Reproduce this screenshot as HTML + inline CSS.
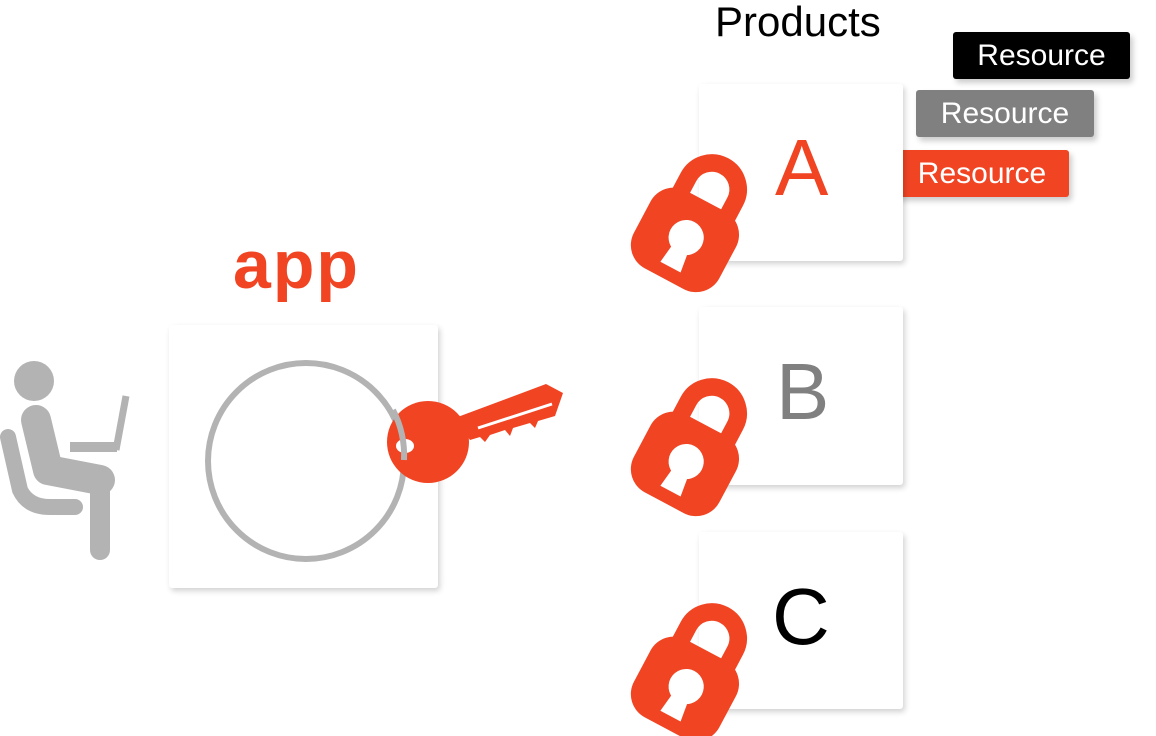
<!DOCTYPE html>
<html><head><style>
body{margin:0;width:1156px;height:736px;background:#fff;position:relative;overflow:hidden;font-family:"Liberation Sans",sans-serif}
.box{position:absolute;background:#fff;box-shadow:2px 3px 6px rgba(0,0,0,.18);border-radius:3px}
.res{position:absolute;color:#fff;font-size:30px;line-height:47px;text-align:center;border-radius:3px;box-shadow:3px 4px 6px rgba(0,0,0,.2)}
.L{position:absolute;font-size:80px;line-height:80px}
</style></head><body>
<div style="position:absolute;left:715px;top:0;font-size:42px;line-height:44px">Products</div>
<div class="res" style="left:953px;top:32px;width:177px;background:#000">Resource</div>
<div class="res" style="left:916px;top:90px;width:178px;background:#808080">Resource</div>
<div class="res" style="left:895px;top:150px;width:174px;background:#f04423">Resource</div>
<div class="box" style="left:699px;top:84px;width:204px;height:177px"></div>
<div class="box" style="left:699px;top:307px;width:204px;height:178px"></div>
<div class="box" style="left:699px;top:532px;width:204px;height:177px"></div>
<div class="L" style="left:775px;top:128px;color:#f04423">A</div>
<div class="L" style="left:776px;top:352px;color:#808080">B</div>
<div class="L" style="left:772px;top:577px;color:#000">C</div>
<div class="box" style="left:169px;top:325px;width:269px;height:263px"></div>
<div style="position:absolute;left:233px;top:226px;font-size:68px;font-weight:bold;color:#f04423;letter-spacing:2px">app</div>
<svg width="1156" height="736" style="position:absolute;left:0;top:0">
<defs>
<g id="lock">
<path d="M-30,-40 L-30,-60 A30,30 0 0 1 30,-60 L30,-40" fill="none" stroke="#f04423" stroke-width="20"/>
<rect x="-55" y="-45" width="110" height="100" rx="30" fill="#f04423"/>
<circle cx="0" cy="2" r="20" fill="#fff"/>
<path d="M-9,10 L-13,40 L13,40 L9,10 Z" fill="#fff"/>
</g>
</defs>
<use href="#lock" transform="translate(687,236) rotate(28) scale(0.88)"/>
<use href="#lock" transform="translate(687,460) rotate(28) scale(0.88)"/>
<use href="#lock" transform="translate(687,685) rotate(28) scale(0.88)"/>
<circle cx="306" cy="461" r="98" fill="none" stroke="#b3b3b3" stroke-width="6"/>
<path d="M455,418 L546,384 L563,393 L555,416 L538,421 L535,428 L530,423 L513,428 L510,436 L505,430 L490,435 L485,442 L480,437 L470,440 Z" fill="#f04423"/>
<path d="M478,428 L552,404" stroke="#fff" stroke-width="3"/>
<circle cx="428" cy="442" r="41" fill="#f04423"/>
<ellipse cx="405" cy="446" rx="9" ry="7" fill="#fff"/>
<path d="M393,410 A98,98 0 0 1 404,460" fill="none" stroke="#b3b3b3" stroke-width="6"/>
<g fill="#b3b3b3" stroke="#b3b3b3" stroke-linecap="round" stroke-linejoin="round">
<circle cx="34" cy="381" r="20" stroke="none"/>
<path d="M36,420 L48,470 L100,480" fill="none" stroke-width="30"/>
<path d="M100,480 L100,550" fill="none" stroke-width="20"/>
<path d="M8,437 L20,490 Q28,507 50,507 L75,507" fill="none" stroke-width="16"/>
<rect x="70" y="442" width="47" height="10" stroke="none"/>
<path d="M116,450 L126,396" fill="none" stroke-width="7" stroke-linecap="butt"/>
</g>
</svg>
</body></html>
